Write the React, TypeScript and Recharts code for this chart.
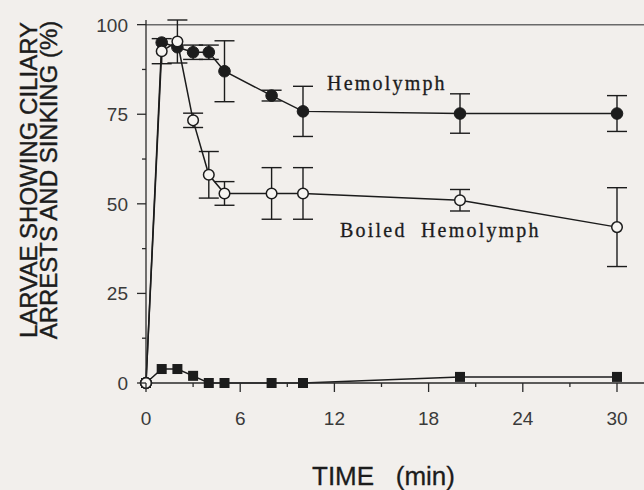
import React from 'react';
import {
  ComposedChart,
  Line,
  XAxis,
  YAxis,
  ErrorBar,
  ReferenceLine,
  ReferenceDot,
  Label,
} from 'recharts';

// sampling times (min)
const times = [0, 1, 2, 3, 4, 5, 8, 10, 20, 30];

// % larvae showing ciliary arrest and sinking
const hemolymph = [0, 95, 93.7, 92.3, 92.3, 87, 80.2, 75.8, 75.2, 75.2];
const hemolymphErr = [0, 0, 0, 2, 2, 8.5, 1.5, 7, 5.5, 5];
const boiled = [0, 92.6, 95.3, 73.3, 58.1, 52.9, 52.9, 52.9, 51, 43.5];
const boiledErr = [0, 3.5, 6, 2, 6.5, 3.3, 7.2, 7.2, 3, 11];
const control = [0, 3.9, 3.9, 2, 0, 0, 0, 0, 1.7, 1.7];

const xTicks = [0, 3, 6, 9, 12, 15, 18, 21, 24, 27, 30];
const yTicks = [0, 12.5, 25, 37.5, 50, 62.5, 75, 87.5, 100];

const notes = [
  { t: 11.53, v: 81.8, text: 'Hemolymph' },
  { t: 12.36, v: 40.8, text: 'Boiled\u00A0\u00A0Hemolymph' },
];

const hemoData = times.map((t, i) => ({ t, v: hemolymph[i], e: hemolymphErr[i] }));
const boiledData = times.map((t, i) => ({ t, v: boiled[i], e: boiledErr[i] }));
const controlData = times.map((t, i) => ({ t, v: control[i] }));

const ink = '#1c1c1c';
const axisColor = '#2a2a2a';
const tickFont = '"Liberation Sans", Arial, sans-serif';

const XTick = (props: any) => {
  const { x, y, payload } = props;
  const major = payload.value % 6 === 0;
  return (
    <g>
      <line x1={x} y1={y} x2={x} y2={y + (major ? 9 : 4)} stroke={axisColor} strokeWidth={1.3} />
      {major && (
        <text x={x} y={y + 42} textAnchor="middle" fontSize={19} fontFamily={tickFont} fill="#3a3a3a">
          {payload.value}
        </text>
      )}
    </g>
  );
};

const YTick = (props: any) => {
  const { x, y, payload } = props;
  const major = payload.value % 25 === 0;
  return (
    <g>
      <line x1={x - (major ? 9 : 4)} y1={y} x2={x} y2={y} stroke={axisColor} strokeWidth={1.3} />
      {major && (
        <text x={x - 18} y={y + 7} textAnchor="end" fontSize={19} fontFamily={tickFont} fill="#3a3a3a">
          {payload.value}
        </text>
      )}
    </g>
  );
};

const SquareDot = (props: any) => {
  const { cx, cy, index } = props;
  if (cx == null || cy == null) return null;
  return <rect key={`sq-${index}`} x={cx - 5} y={cy - 5} width={10} height={10} fill={ink} />;
};

export default function App() {
  return (
    <div style={{ position: 'absolute', left: 0, top: 0, width: 644, height: 490, background: '#f2efec' }}>
      <ComposedChart width={644} height={490} margin={{ top: 20, right: 0, bottom: 0, left: 0 }}>
        <XAxis
          type="number"
          dataKey="t"
          domain={[0, 31.72]}
          ticks={xTicks}
          tick={<XTick />}
          tickLine={false}
          tickSize={0}
          tickMargin={0}
          height={107}
          stroke={axisColor}
          strokeWidth={1.3}
          allowDuplicatedCategory={false}
        >
          <Label
            content={() => (
              <text x={312} y={485} fontSize={26} fontFamily={tickFont} fill={ink} stroke={ink} strokeWidth={0.3}>
                {'TIME\u00A0\u00A0\u00A0(min)'}
              </text>
            )}
          />
        </XAxis>
        <YAxis
          type="number"
          domain={[0, 100]}
          ticks={yTicks}
          tick={<YTick />}
          tickLine={false}
          tickSize={0}
          tickMargin={0}
          width={146}
          stroke={axisColor}
          strokeWidth={1.3}
        >
          <Label
            content={() => (
              <g fontSize={24} fontFamily={tickFont} fill={ink} stroke={ink} strokeWidth={0.4} textAnchor="middle">
                <text x={37} y={180} transform="rotate(-90 37 180)">LARVAE SHOWING CILIARY</text>
                <text x={57} y={180} transform="rotate(-90 57 180)">ARRESTS AND SINKING (%)</text>
              </g>
            )}
          />
        </YAxis>

        <ReferenceLine y={100} stroke="#6a6a6a" strokeWidth={1.5} />

        <Line
          data={controlData}
          dataKey="v"
          type="linear"
          stroke={ink}
          strokeWidth={1.5}
          dot={<SquareDot />}
          isAnimationActive={false}
        />
        <Line
          data={hemoData}
          dataKey="v"
          type="linear"
          stroke={ink}
          strokeWidth={1.5}
          dot={{ r: 5.8, fill: ink, stroke: ink, strokeWidth: 1 }}
          isAnimationActive={false}
        >
          <ErrorBar dataKey="e" width={10} stroke={ink} strokeWidth={1.4} direction="y" />
        </Line>
        <Line
          data={boiledData}
          dataKey="v"
          type="linear"
          stroke={ink}
          strokeWidth={1.5}
          dot={{ r: 5.3, fill: '#f7f5f2', stroke: ink, strokeWidth: 1.5 }}
          isAnimationActive={false}
        >
          <ErrorBar dataKey="e" width={10} stroke={ink} strokeWidth={1.4} direction="y" />
        </Line>

        {notes.map((n) => (
          <ReferenceDot
            key={n.text}
            x={n.t}
            y={n.v}
            r={0}
            fill="none"
            stroke="none"
            label={{
              content: (p: any) => (
                <text
                  x={p.viewBox.x}
                  y={p.viewBox.y}
                  fontSize={20}
                  letterSpacing={2.2}
                  fontFamily='"Liberation Serif", "Times New Roman", serif'
                  fill={ink}
                  stroke={ink}
                  strokeWidth={0.3}
                >
                  {n.text}
                </text>
              ),
            }}
          />
        ))}
      </ComposedChart>
    </div>
  );
}
